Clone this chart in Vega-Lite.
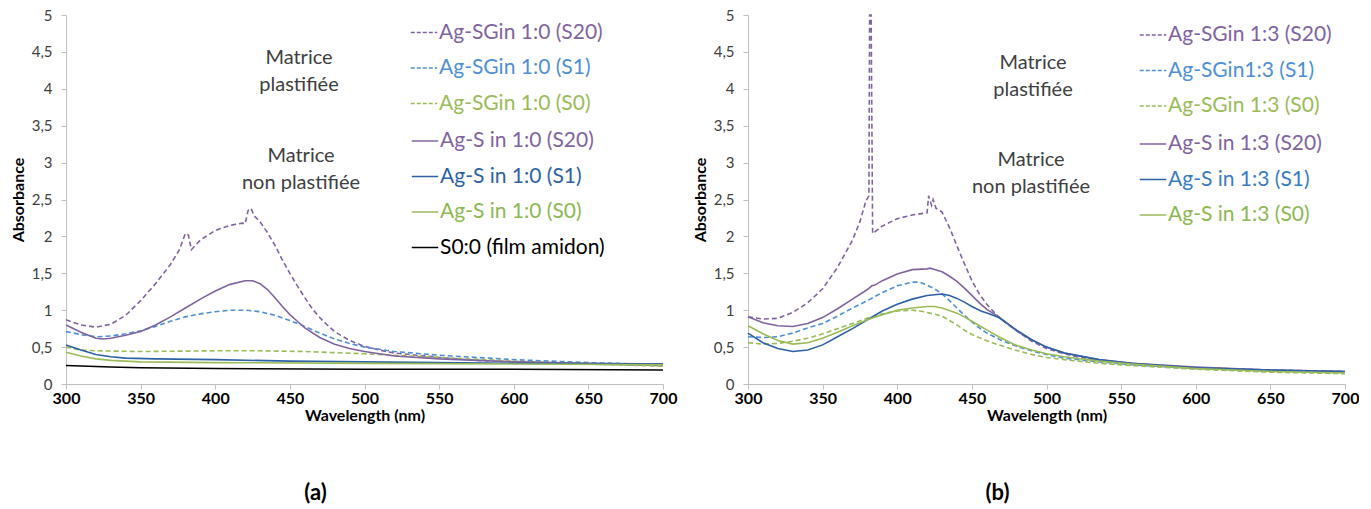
{
  "$schema": "https://vega.github.io/schema/vega-lite/v6.json",
  "padding": {"left": 10, "top": 8, "right": 0, "bottom": 0},
  "background": "white",
  "spacing": 15,
  "config": {
    "font": "Lato",
    "view": {"stroke": null},
    "axis": {"grid": false, "domainColor": "#BFBFBF", "tickColor": "#BFBFBF", "labelColor": "#404040", "titleColor": "#000000", "labelFont": "Lato", "titleFont": "Lato", "tickSize": 5},
    "legend": {"labelFont": "Lato", "titleFont": "Lato"},
    "title": {"font": "Lato"}
  },
  "datasets": {
    "a": [
      {"series":"Ag-SGin 1:0 (S20)","nm":300,"A":0.87},{"series":"Ag-SGin 1:0 (S20)","nm":310,"A":0.80},{"series":"Ag-SGin 1:0 (S20)","nm":320,"A":0.77},{"series":"Ag-SGin 1:0 (S20)","nm":330,"A":0.81},{"series":"Ag-SGin 1:0 (S20)","nm":340,"A":0.93},{"series":"Ag-SGin 1:0 (S20)","nm":350,"A":1.13},{"series":"Ag-SGin 1:0 (S20)","nm":360,"A":1.36},{"series":"Ag-SGin 1:0 (S20)","nm":370,"A":1.62},{"series":"Ag-SGin 1:0 (S20)","nm":376,"A":1.82},{"series":"Ag-SGin 1:0 (S20)","nm":380,"A":2.04},{"series":"Ag-SGin 1:0 (S20)","nm":382,"A":2.02},{"series":"Ag-SGin 1:0 (S20)","nm":384,"A":1.82},{"series":"Ag-SGin 1:0 (S20)","nm":390,"A":1.95},{"series":"Ag-SGin 1:0 (S20)","nm":400,"A":2.08},{"series":"Ag-SGin 1:0 (S20)","nm":410,"A":2.15},{"series":"Ag-SGin 1:0 (S20)","nm":418,"A":2.18},{"series":"Ag-SGin 1:0 (S20)","nm":420,"A":2.17},{"series":"Ag-SGin 1:0 (S20)","nm":422,"A":2.35},{"series":"Ag-SGin 1:0 (S20)","nm":424,"A":2.38},{"series":"Ag-SGin 1:0 (S20)","nm":426,"A":2.28},{"series":"Ag-SGin 1:0 (S20)","nm":430,"A":2.2},{"series":"Ag-SGin 1:0 (S20)","nm":435,"A":2.05},{"series":"Ag-SGin 1:0 (S20)","nm":440,"A":1.88},{"series":"Ag-SGin 1:0 (S20)","nm":445,"A":1.68},{"series":"Ag-SGin 1:0 (S20)","nm":450,"A":1.5},{"series":"Ag-SGin 1:0 (S20)","nm":455,"A":1.33},{"series":"Ag-SGin 1:0 (S20)","nm":460,"A":1.17},{"series":"Ag-SGin 1:0 (S20)","nm":465,"A":1.02},{"series":"Ag-SGin 1:0 (S20)","nm":470,"A":0.9},{"series":"Ag-SGin 1:0 (S20)","nm":475,"A":0.8},{"series":"Ag-SGin 1:0 (S20)","nm":480,"A":0.71},{"series":"Ag-SGin 1:0 (S20)","nm":490,"A":0.59},{"series":"Ag-SGin 1:0 (S20)","nm":500,"A":0.51},{"series":"Ag-SGin 1:0 (S20)","nm":510,"A":0.46},{"series":"Ag-SGin 1:0 (S20)","nm":520,"A":0.42},{"series":"Ag-SGin 1:0 (S20)","nm":535,"A":0.39},{"series":"Ag-SGin 1:0 (S20)","nm":550,"A":0.36},{"series":"Ag-SGin 1:0 (S20)","nm":575,"A":0.32},{"series":"Ag-SGin 1:0 (S20)","nm":600,"A":0.3},{"series":"Ag-SGin 1:0 (S20)","nm":650,"A":0.27},{"series":"Ag-SGin 1:0 (S20)","nm":700,"A":0.25},
      {"series":"Ag-SGin 1:0 (S1)","nm":300,"A":0.71},{"series":"Ag-SGin 1:0 (S1)","nm":310,"A":0.67},{"series":"Ag-SGin 1:0 (S1)","nm":320,"A":0.64},{"series":"Ag-SGin 1:0 (S1)","nm":330,"A":0.65},{"series":"Ag-SGin 1:0 (S1)","nm":340,"A":0.68},{"series":"Ag-SGin 1:0 (S1)","nm":350,"A":0.72},{"series":"Ag-SGin 1:0 (S1)","nm":360,"A":0.78},{"series":"Ag-SGin 1:0 (S1)","nm":370,"A":0.85},{"series":"Ag-SGin 1:0 (S1)","nm":380,"A":0.91},{"series":"Ag-SGin 1:0 (S1)","nm":390,"A":0.95},{"series":"Ag-SGin 1:0 (S1)","nm":400,"A":0.98},{"series":"Ag-SGin 1:0 (S1)","nm":410,"A":1.0},{"series":"Ag-SGin 1:0 (S1)","nm":420,"A":1.0},{"series":"Ag-SGin 1:0 (S1)","nm":430,"A":0.98},{"series":"Ag-SGin 1:0 (S1)","nm":440,"A":0.93},{"series":"Ag-SGin 1:0 (S1)","nm":450,"A":0.86},{"series":"Ag-SGin 1:0 (S1)","nm":460,"A":0.78},{"series":"Ag-SGin 1:0 (S1)","nm":470,"A":0.69},{"series":"Ag-SGin 1:0 (S1)","nm":480,"A":0.61},{"series":"Ag-SGin 1:0 (S1)","nm":490,"A":0.55},{"series":"Ag-SGin 1:0 (S1)","nm":500,"A":0.5},{"series":"Ag-SGin 1:0 (S1)","nm":520,"A":0.44},{"series":"Ag-SGin 1:0 (S1)","nm":550,"A":0.39},{"series":"Ag-SGin 1:0 (S1)","nm":600,"A":0.33},{"series":"Ag-SGin 1:0 (S1)","nm":650,"A":0.29},{"series":"Ag-SGin 1:0 (S1)","nm":700,"A":0.26},
      {"series":"Ag-SGin 1:0 (S0)","nm":300,"A":0.5},{"series":"Ag-SGin 1:0 (S0)","nm":310,"A":0.46},{"series":"Ag-SGin 1:0 (S0)","nm":320,"A":0.45},{"series":"Ag-SGin 1:0 (S0)","nm":350,"A":0.44},{"series":"Ag-SGin 1:0 (S0)","nm":400,"A":0.45},{"series":"Ag-SGin 1:0 (S0)","nm":430,"A":0.45},{"series":"Ag-SGin 1:0 (S0)","nm":460,"A":0.44},{"series":"Ag-SGin 1:0 (S0)","nm":500,"A":0.41},{"series":"Ag-SGin 1:0 (S0)","nm":550,"A":0.36},{"series":"Ag-SGin 1:0 (S0)","nm":600,"A":0.31},{"series":"Ag-SGin 1:0 (S0)","nm":650,"A":0.27},{"series":"Ag-SGin 1:0 (S0)","nm":700,"A":0.24},
      {"series":"Ag-S in 1:0 (S20)","nm":300,"A":0.8},{"series":"Ag-S in 1:0 (S20)","nm":310,"A":0.7},{"series":"Ag-S in 1:0 (S20)","nm":320,"A":0.62},{"series":"Ag-S in 1:0 (S20)","nm":325,"A":0.61},{"series":"Ag-S in 1:0 (S20)","nm":330,"A":0.62},{"series":"Ag-S in 1:0 (S20)","nm":340,"A":0.66},{"series":"Ag-S in 1:0 (S20)","nm":350,"A":0.71},{"series":"Ag-S in 1:0 (S20)","nm":360,"A":0.8},{"series":"Ag-S in 1:0 (S20)","nm":370,"A":0.91},{"series":"Ag-S in 1:0 (S20)","nm":380,"A":1.03},{"series":"Ag-S in 1:0 (S20)","nm":390,"A":1.15},{"series":"Ag-S in 1:0 (S20)","nm":400,"A":1.26},{"series":"Ag-S in 1:0 (S20)","nm":410,"A":1.35},{"series":"Ag-S in 1:0 (S20)","nm":420,"A":1.4},{"series":"Ag-S in 1:0 (S20)","nm":425,"A":1.4},{"series":"Ag-S in 1:0 (S20)","nm":430,"A":1.36},{"series":"Ag-S in 1:0 (S20)","nm":435,"A":1.28},{"series":"Ag-S in 1:0 (S20)","nm":440,"A":1.17},{"series":"Ag-S in 1:0 (S20)","nm":445,"A":1.05},{"series":"Ag-S in 1:0 (S20)","nm":450,"A":0.94},{"series":"Ag-S in 1:0 (S20)","nm":455,"A":0.85},{"series":"Ag-S in 1:0 (S20)","nm":460,"A":0.76},{"series":"Ag-S in 1:0 (S20)","nm":470,"A":0.63},{"series":"Ag-S in 1:0 (S20)","nm":480,"A":0.54},{"series":"Ag-S in 1:0 (S20)","nm":490,"A":0.48},{"series":"Ag-S in 1:0 (S20)","nm":500,"A":0.44},{"series":"Ag-S in 1:0 (S20)","nm":520,"A":0.38},{"series":"Ag-S in 1:0 (S20)","nm":550,"A":0.34},{"series":"Ag-S in 1:0 (S20)","nm":600,"A":0.3},{"series":"Ag-S in 1:0 (S20)","nm":650,"A":0.28},{"series":"Ag-S in 1:0 (S20)","nm":700,"A":0.27},
      {"series":"Ag-S in 1:0 (S1)","nm":300,"A":0.53},{"series":"Ag-S in 1:0 (S1)","nm":310,"A":0.46},{"series":"Ag-S in 1:0 (S1)","nm":320,"A":0.4},{"series":"Ag-S in 1:0 (S1)","nm":330,"A":0.37},{"series":"Ag-S in 1:0 (S1)","nm":340,"A":0.35},{"series":"Ag-S in 1:0 (S1)","nm":360,"A":0.34},{"series":"Ag-S in 1:0 (S1)","nm":400,"A":0.33},{"series":"Ag-S in 1:0 (S1)","nm":450,"A":0.31},{"series":"Ag-S in 1:0 (S1)","nm":500,"A":0.3},{"series":"Ag-S in 1:0 (S1)","nm":600,"A":0.28},{"series":"Ag-S in 1:0 (S1)","nm":700,"A":0.27},
      {"series":"Ag-S in 1:0 (S0)","nm":300,"A":0.43},{"series":"Ag-S in 1:0 (S0)","nm":310,"A":0.38},{"series":"Ag-S in 1:0 (S0)","nm":320,"A":0.34},{"series":"Ag-S in 1:0 (S0)","nm":330,"A":0.32},{"series":"Ag-S in 1:0 (S0)","nm":350,"A":0.3},{"series":"Ag-S in 1:0 (S0)","nm":400,"A":0.29},{"series":"Ag-S in 1:0 (S0)","nm":500,"A":0.28},{"series":"Ag-S in 1:0 (S0)","nm":600,"A":0.27},{"series":"Ag-S in 1:0 (S0)","nm":700,"A":0.26},
      {"series":"S0:0 (film amidon)","nm":300,"A":0.25},{"series":"S0:0 (film amidon)","nm":330,"A":0.23},{"series":"S0:0 (film amidon)","nm":350,"A":0.22},{"series":"S0:0 (film amidon)","nm":400,"A":0.21},{"series":"S0:0 (film amidon)","nm":500,"A":0.2},{"series":"S0:0 (film amidon)","nm":600,"A":0.2},{"series":"S0:0 (film amidon)","nm":700,"A":0.19}
    ],
    "b": [
      {"series":"Ag-SGin 1:3 (S20)","nm":300,"A":0.91},{"series":"Ag-SGin 1:3 (S20)","nm":310,"A":0.88},{"series":"Ag-SGin 1:3 (S20)","nm":320,"A":0.89},{"series":"Ag-SGin 1:3 (S20)","nm":330,"A":0.97},{"series":"Ag-SGin 1:3 (S20)","nm":340,"A":1.1},{"series":"Ag-SGin 1:3 (S20)","nm":350,"A":1.29},{"series":"Ag-SGin 1:3 (S20)","nm":360,"A":1.58},{"series":"Ag-SGin 1:3 (S20)","nm":370,"A":1.95},{"series":"Ag-SGin 1:3 (S20)","nm":375,"A":2.2},{"series":"Ag-SGin 1:3 (S20)","nm":379,"A":2.48},{"series":"Ag-SGin 1:3 (S20)","nm":381,"A":2.55},{"series":"Ag-SGin 1:3 (S20)","nm":381.5,"A":5.0},{"series":"Ag-SGin 1:3 (S20)","nm":382.5,"A":5.0},{"series":"Ag-SGin 1:3 (S20)","nm":383.5,"A":2.04},{"series":"Ag-SGin 1:3 (S20)","nm":390,"A":2.14},{"series":"Ag-SGin 1:3 (S20)","nm":400,"A":2.24},{"series":"Ag-SGin 1:3 (S20)","nm":410,"A":2.29},{"series":"Ag-SGin 1:3 (S20)","nm":420,"A":2.32},{"series":"Ag-SGin 1:3 (S20)","nm":421,"A":2.55},{"series":"Ag-SGin 1:3 (S20)","nm":423,"A":2.42},{"series":"Ag-SGin 1:3 (S20)","nm":424,"A":2.5},{"series":"Ag-SGin 1:3 (S20)","nm":426,"A":2.38},{"series":"Ag-SGin 1:3 (S20)","nm":430,"A":2.33},{"series":"Ag-SGin 1:3 (S20)","nm":435,"A":2.12},{"series":"Ag-SGin 1:3 (S20)","nm":440,"A":1.87},{"series":"Ag-SGin 1:3 (S20)","nm":445,"A":1.63},{"series":"Ag-SGin 1:3 (S20)","nm":450,"A":1.4},{"series":"Ag-SGin 1:3 (S20)","nm":455,"A":1.22},{"series":"Ag-SGin 1:3 (S20)","nm":460,"A":1.08},{"series":"Ag-SGin 1:3 (S20)","nm":465,"A":0.97},{"series":"Ag-SGin 1:3 (S20)","nm":470,"A":0.87},{"series":"Ag-SGin 1:3 (S20)","nm":480,"A":0.72},{"series":"Ag-SGin 1:3 (S20)","nm":490,"A":0.58},{"series":"Ag-SGin 1:3 (S20)","nm":500,"A":0.48},{"series":"Ag-SGin 1:3 (S20)","nm":510,"A":0.42},{"series":"Ag-SGin 1:3 (S20)","nm":520,"A":0.37},{"series":"Ag-SGin 1:3 (S20)","nm":535,"A":0.32},{"series":"Ag-SGin 1:3 (S20)","nm":550,"A":0.29},{"series":"Ag-SGin 1:3 (S20)","nm":575,"A":0.25},{"series":"Ag-SGin 1:3 (S20)","nm":600,"A":0.22},{"series":"Ag-SGin 1:3 (S20)","nm":650,"A":0.19},{"series":"Ag-SGin 1:3 (S20)","nm":700,"A":0.17},
      {"series":"Ag-SGin1:3 (S1)","nm":300,"A":0.64},{"series":"Ag-SGin1:3 (S1)","nm":310,"A":0.63},{"series":"Ag-SGin1:3 (S1)","nm":320,"A":0.64},{"series":"Ag-SGin1:3 (S1)","nm":330,"A":0.69},{"series":"Ag-SGin1:3 (S1)","nm":340,"A":0.76},{"series":"Ag-SGin1:3 (S1)","nm":350,"A":0.82},{"series":"Ag-SGin1:3 (S1)","nm":360,"A":0.92},{"series":"Ag-SGin1:3 (S1)","nm":370,"A":1.03},{"series":"Ag-SGin1:3 (S1)","nm":380,"A":1.13},{"series":"Ag-SGin1:3 (S1)","nm":390,"A":1.24},{"series":"Ag-SGin1:3 (S1)","nm":400,"A":1.33},{"series":"Ag-SGin1:3 (S1)","nm":410,"A":1.38},{"series":"Ag-SGin1:3 (S1)","nm":415,"A":1.38},{"series":"Ag-SGin1:3 (S1)","nm":420,"A":1.34},{"series":"Ag-SGin1:3 (S1)","nm":425,"A":1.29},{"series":"Ag-SGin1:3 (S1)","nm":430,"A":1.22},{"series":"Ag-SGin1:3 (S1)","nm":435,"A":1.13},{"series":"Ag-SGin1:3 (S1)","nm":440,"A":1.03},{"series":"Ag-SGin1:3 (S1)","nm":445,"A":0.93},{"series":"Ag-SGin1:3 (S1)","nm":450,"A":0.84},{"series":"Ag-SGin1:3 (S1)","nm":455,"A":0.76},{"series":"Ag-SGin1:3 (S1)","nm":460,"A":0.69},{"series":"Ag-SGin1:3 (S1)","nm":470,"A":0.59},{"series":"Ag-SGin1:3 (S1)","nm":480,"A":0.51},{"series":"Ag-SGin1:3 (S1)","nm":490,"A":0.45},{"series":"Ag-SGin1:3 (S1)","nm":500,"A":0.4},{"series":"Ag-SGin1:3 (S1)","nm":512,"A":0.35},{"series":"Ag-SGin1:3 (S1)","nm":535,"A":0.3},{"series":"Ag-SGin1:3 (S1)","nm":557,"A":0.26},{"series":"Ag-SGin1:3 (S1)","nm":600,"A":0.21},{"series":"Ag-SGin1:3 (S1)","nm":650,"A":0.18},{"series":"Ag-SGin1:3 (S1)","nm":700,"A":0.16},
      {"series":"Ag-SGin 1:3 (S0)","nm":300,"A":0.56},{"series":"Ag-SGin 1:3 (S0)","nm":310,"A":0.54},{"series":"Ag-SGin 1:3 (S0)","nm":320,"A":0.55},{"series":"Ag-SGin 1:3 (S0)","nm":330,"A":0.58},{"series":"Ag-SGin 1:3 (S0)","nm":340,"A":0.62},{"series":"Ag-SGin 1:3 (S0)","nm":350,"A":0.68},{"series":"Ag-SGin 1:3 (S0)","nm":360,"A":0.75},{"series":"Ag-SGin 1:3 (S0)","nm":370,"A":0.82},{"series":"Ag-SGin 1:3 (S0)","nm":380,"A":0.89},{"series":"Ag-SGin 1:3 (S0)","nm":390,"A":0.95},{"series":"Ag-SGin 1:3 (S0)","nm":400,"A":0.99},{"series":"Ag-SGin 1:3 (S0)","nm":410,"A":1.0},{"series":"Ag-SGin 1:3 (S0)","nm":415,"A":0.99},{"series":"Ag-SGin 1:3 (S0)","nm":420,"A":0.97},{"series":"Ag-SGin 1:3 (S0)","nm":430,"A":0.92},{"series":"Ag-SGin 1:3 (S0)","nm":440,"A":0.8},{"series":"Ag-SGin 1:3 (S0)","nm":445,"A":0.73},{"series":"Ag-SGin 1:3 (S0)","nm":450,"A":0.67},{"series":"Ag-SGin 1:3 (S0)","nm":456,"A":0.62},{"series":"Ag-SGin 1:3 (S0)","nm":462,"A":0.57},{"series":"Ag-SGin 1:3 (S0)","nm":468,"A":0.53},{"series":"Ag-SGin 1:3 (S0)","nm":479,"A":0.46},{"series":"Ag-SGin 1:3 (S0)","nm":490,"A":0.4},{"series":"Ag-SGin 1:3 (S0)","nm":500,"A":0.36},{"series":"Ag-SGin 1:3 (S0)","nm":512,"A":0.33},{"series":"Ag-SGin 1:3 (S0)","nm":535,"A":0.28},{"series":"Ag-SGin 1:3 (S0)","nm":557,"A":0.25},{"series":"Ag-SGin 1:3 (S0)","nm":600,"A":0.2},{"series":"Ag-SGin 1:3 (S0)","nm":650,"A":0.16},{"series":"Ag-SGin 1:3 (S0)","nm":700,"A":0.14},
      {"series":"Ag-S in 1:3 (S20)","nm":300,"A":0.91},{"series":"Ag-S in 1:3 (S20)","nm":310,"A":0.83},{"series":"Ag-S in 1:3 (S20)","nm":320,"A":0.79},{"series":"Ag-S in 1:3 (S20)","nm":330,"A":0.78},{"series":"Ag-S in 1:3 (S20)","nm":340,"A":0.82},{"series":"Ag-S in 1:3 (S20)","nm":350,"A":0.9},{"series":"Ag-S in 1:3 (S20)","nm":360,"A":1.02},{"series":"Ag-S in 1:3 (S20)","nm":370,"A":1.15},{"series":"Ag-S in 1:3 (S20)","nm":380,"A":1.28},{"series":"Ag-S in 1:3 (S20)","nm":383,"A":1.33},{"series":"Ag-S in 1:3 (S20)","nm":385,"A":1.34},{"series":"Ag-S in 1:3 (S20)","nm":390,"A":1.4},{"series":"Ag-S in 1:3 (S20)","nm":400,"A":1.49},{"series":"Ag-S in 1:3 (S20)","nm":410,"A":1.55},{"series":"Ag-S in 1:3 (S20)","nm":420,"A":1.56},{"series":"Ag-S in 1:3 (S20)","nm":422,"A":1.57},{"series":"Ag-S in 1:3 (S20)","nm":425,"A":1.55},{"series":"Ag-S in 1:3 (S20)","nm":430,"A":1.52},{"series":"Ag-S in 1:3 (S20)","nm":435,"A":1.46},{"series":"Ag-S in 1:3 (S20)","nm":440,"A":1.39},{"series":"Ag-S in 1:3 (S20)","nm":445,"A":1.3},{"series":"Ag-S in 1:3 (S20)","nm":450,"A":1.2},{"series":"Ag-S in 1:3 (S20)","nm":455,"A":1.1},{"series":"Ag-S in 1:3 (S20)","nm":460,"A":1.01},{"series":"Ag-S in 1:3 (S20)","nm":468,"A":0.91},{"series":"Ag-S in 1:3 (S20)","nm":475,"A":0.8},{"series":"Ag-S in 1:3 (S20)","nm":480,"A":0.72},{"series":"Ag-S in 1:3 (S20)","nm":490,"A":0.6},{"series":"Ag-S in 1:3 (S20)","nm":500,"A":0.5},{"series":"Ag-S in 1:3 (S20)","nm":512,"A":0.42},{"series":"Ag-S in 1:3 (S20)","nm":535,"A":0.33},{"series":"Ag-S in 1:3 (S20)","nm":557,"A":0.28},{"series":"Ag-S in 1:3 (S20)","nm":600,"A":0.23},{"series":"Ag-S in 1:3 (S20)","nm":650,"A":0.19},{"series":"Ag-S in 1:3 (S20)","nm":700,"A":0.17},
      {"series":"Ag-S in 1:3 (S1)","nm":300,"A":0.69},{"series":"Ag-S in 1:3 (S1)","nm":310,"A":0.56},{"series":"Ag-S in 1:3 (S1)","nm":320,"A":0.48},{"series":"Ag-S in 1:3 (S1)","nm":330,"A":0.44},{"series":"Ag-S in 1:3 (S1)","nm":340,"A":0.46},{"series":"Ag-S in 1:3 (S1)","nm":350,"A":0.53},{"series":"Ag-S in 1:3 (S1)","nm":360,"A":0.64},{"series":"Ag-S in 1:3 (S1)","nm":370,"A":0.75},{"series":"Ag-S in 1:3 (S1)","nm":380,"A":0.87},{"series":"Ag-S in 1:3 (S1)","nm":390,"A":0.99},{"series":"Ag-S in 1:3 (S1)","nm":400,"A":1.08},{"series":"Ag-S in 1:3 (S1)","nm":410,"A":1.15},{"series":"Ag-S in 1:3 (S1)","nm":420,"A":1.2},{"series":"Ag-S in 1:3 (S1)","nm":430,"A":1.22},{"series":"Ag-S in 1:3 (S1)","nm":435,"A":1.2},{"series":"Ag-S in 1:3 (S1)","nm":440,"A":1.16},{"series":"Ag-S in 1:3 (S1)","nm":445,"A":1.11},{"series":"Ag-S in 1:3 (S1)","nm":450,"A":1.05},{"series":"Ag-S in 1:3 (S1)","nm":456,"A":0.99},{"series":"Ag-S in 1:3 (S1)","nm":462,"A":0.95},{"series":"Ag-S in 1:3 (S1)","nm":468,"A":0.9},{"series":"Ag-S in 1:3 (S1)","nm":475,"A":0.8},{"series":"Ag-S in 1:3 (S1)","nm":480,"A":0.73},{"series":"Ag-S in 1:3 (S1)","nm":490,"A":0.6},{"series":"Ag-S in 1:3 (S1)","nm":500,"A":0.5},{"series":"Ag-S in 1:3 (S1)","nm":512,"A":0.42},{"series":"Ag-S in 1:3 (S1)","nm":535,"A":0.33},{"series":"Ag-S in 1:3 (S1)","nm":557,"A":0.28},{"series":"Ag-S in 1:3 (S1)","nm":600,"A":0.22},{"series":"Ag-S in 1:3 (S1)","nm":650,"A":0.19},{"series":"Ag-S in 1:3 (S1)","nm":700,"A":0.17},
      {"series":"Ag-S in 1:3 (S0)","nm":300,"A":0.79},{"series":"Ag-S in 1:3 (S0)","nm":310,"A":0.68},{"series":"Ag-S in 1:3 (S0)","nm":320,"A":0.59},{"series":"Ag-S in 1:3 (S0)","nm":330,"A":0.54},{"series":"Ag-S in 1:3 (S0)","nm":340,"A":0.56},{"series":"Ag-S in 1:3 (S0)","nm":350,"A":0.62},{"series":"Ag-S in 1:3 (S0)","nm":360,"A":0.7},{"series":"Ag-S in 1:3 (S0)","nm":370,"A":0.79},{"series":"Ag-S in 1:3 (S0)","nm":380,"A":0.87},{"series":"Ag-S in 1:3 (S0)","nm":390,"A":0.94},{"series":"Ag-S in 1:3 (S0)","nm":400,"A":1.0},{"series":"Ag-S in 1:3 (S0)","nm":410,"A":1.03},{"series":"Ag-S in 1:3 (S0)","nm":420,"A":1.05},{"series":"Ag-S in 1:3 (S0)","nm":425,"A":1.05},{"series":"Ag-S in 1:3 (S0)","nm":430,"A":1.03},{"series":"Ag-S in 1:3 (S0)","nm":440,"A":0.96},{"series":"Ag-S in 1:3 (S0)","nm":445,"A":0.91},{"series":"Ag-S in 1:3 (S0)","nm":450,"A":0.85},{"series":"Ag-S in 1:3 (S0)","nm":456,"A":0.78},{"series":"Ag-S in 1:3 (S0)","nm":462,"A":0.71},{"series":"Ag-S in 1:3 (S0)","nm":468,"A":0.64},{"series":"Ag-S in 1:3 (S0)","nm":479,"A":0.53},{"series":"Ag-S in 1:3 (S0)","nm":490,"A":0.46},{"series":"Ag-S in 1:3 (S0)","nm":500,"A":0.41},{"series":"Ag-S in 1:3 (S0)","nm":512,"A":0.37},{"series":"Ag-S in 1:3 (S0)","nm":535,"A":0.31},{"series":"Ag-S in 1:3 (S0)","nm":557,"A":0.27},{"series":"Ag-S in 1:3 (S0)","nm":600,"A":0.21},{"series":"Ag-S in 1:3 (S0)","nm":650,"A":0.17},{"series":"Ag-S in 1:3 (S0)","nm":700,"A":0.15}
    ]
  },
  "hconcat": [
    {
      "width": 597, "height": 369,
      "data": {"name": "a"},
      "title": {"text": "(a)", "orient": "bottom", "fontSize": 22, "fontWeight": "bold", "color": "#000000", "dx": -49, "offset": 60},
      "encoding": {
        "x": {"field": "nm", "type": "quantitative", "scale": {"domain": [300, 700], "nice": false, "zero": false},
              "axis": {"values": [300,350,400,450,500,550,600,650,700], "title": "Wavelength (nm)", "labelFlush": false, "labelFontWeight": "bold", "labelFontSize": 16, "labelColor": "#000000", "titleFontSize": 16, "labelPadding": 1, "titlePadding": 1}},
        "y": {"field": "A", "type": "quantitative", "scale": {"domain": [0, 5], "nice": false},
              "axis": {"values": [0,0.5,1,1.5,2,2.5,3,3.5,4,4.5,5], "labelExpr": "replace(toString(datum.value), '.', ',')", "title": "Absorbance", "labelFontSize": 15, "titleFontSize": 16, "labelPadding": 9, "titlePadding": 5}}
      },
      "layer": [
        {
          "transform": [{"filter": "indexof(datum.series, 'SGin') >= 0"}],
          "mark": {"type": "line", "strokeDash": [5, 3], "strokeWidth": 1.6},
          "encoding": {
            "color": {"field": "series", "type": "nominal",
              "scale": {"domain": ["Ag-SGin 1:0 (S20)", "Ag-SGin 1:0 (S1)", "Ag-SGin 1:0 (S0)"], "range": ["#8064A2", "#4F8FD6", "#9BBB59"]},
              "legend": {"title": ["Matrice", "plastifiée"], "orient": "none", "legendX": 193, "legendY": 3.5, "titleOrient": "left", "titleAlign": "center", "titleAnchor": "middle", "titleFontSize": 20, "titleFontWeight": "normal", "titleColor": "#404040", "titleLineHeight": 27, "titlePadding": 31, "symbolType": "stroke", "symbolSize": 700, "symbolStrokeWidth": 1.5, "symbolDash": [4, 2], "labelFontSize": 21, "labelOffset": 1, "rowPadding": 11.5, "labelLimit": 300,
                "encode": {"title": {"update": {"dy": {"value": 5.5}}}, "labels": {"update": {"fill": {"signal": "indexof(datum.value, 'S20') >= 0 ? '#8064A2' : indexof(datum.value, '(S1)') >= 0 ? '#4F8FD6' : '#9BBB59'"}}}}}
            }
          }
        },
        {
          "transform": [{"filter": "indexof(datum.series, 'SGin') < 0"}],
          "mark": {"type": "line", "strokeWidth": 1.6},
          "encoding": {
            "color": {"field": "series", "type": "nominal",
              "scale": {"domain": ["Ag-S in 1:0 (S20)", "Ag-S in 1:0 (S1)", "Ag-S in 1:0 (S0)", "S0:0 (film amidon)"], "range": ["#8064A2", "#2E62A6", "#9BBB59", "#000000"]},
              "legend": {"title": ["Matrice", "non plastifiée"], "orient": "none", "legendX": 176, "legendY": 112, "titleOrient": "left", "titleAlign": "center", "titleAnchor": "middle", "titleFontSize": 20, "titleFontWeight": "normal", "titleColor": "#404040", "titleLineHeight": 27, "titlePadding": -9, "symbolType": "stroke", "symbolSize": 700, "symbolStrokeWidth": 1.5, "labelFontSize": 21, "labelOffset": 1, "rowPadding": 11.5, "labelLimit": 300,
                "encode": {"title": {"update": {"dy": {"value": -23}}}, "labels": {"update": {"fill": {"signal": "indexof(datum.value, 'S20') >= 0 ? '#8064A2' : indexof(datum.value, '(S1)') >= 0 ? '#2E62A6' : indexof(datum.value, 'amidon') >= 0 ? '#000000' : '#8DB852'"}}}}}
            }
          }
        }
      ],
      "resolve": {"scale": {"color": "independent"}, "legend": {"color": "independent"}}
    },
    {
      "width": 597, "height": 369,
      "data": {"name": "b"},
      "title": {"text": "(b)", "orient": "bottom", "fontSize": 22, "fontWeight": "bold", "color": "#000000", "dx": -49, "offset": 60},
      "encoding": {
        "x": {"field": "nm", "type": "quantitative", "scale": {"domain": [300, 700], "nice": false, "zero": false},
              "axis": {"values": [300,350,400,450,500,550,600,650,700], "title": "Wavelength (nm)", "labelFlush": false, "labelFontWeight": "bold", "labelFontSize": 16, "labelColor": "#000000", "titleFontSize": 16, "labelPadding": 1, "titlePadding": 1}},
        "y": {"field": "A", "type": "quantitative", "scale": {"domain": [0, 5], "nice": false},
              "axis": {"values": [0,0.5,1,1.5,2,2.5,3,3.5,4,4.5,5], "labelExpr": "replace(toString(datum.value), '.', ',')", "title": "Absorbance", "labelFontSize": 15, "titleFontSize": 16, "labelPadding": 9, "titlePadding": 5}}
      },
      "layer": [
        {
          "transform": [{"filter": "indexof(datum.series, 'SGin') >= 0"}],
          "mark": {"type": "line", "strokeDash": [5, 3], "strokeWidth": 1.6},
          "encoding": {
            "color": {"field": "series", "type": "nominal",
              "scale": {"domain": ["Ag-SGin 1:3 (S20)", "Ag-SGin1:3 (S1)", "Ag-SGin 1:3 (S0)"], "range": ["#8064A2", "#4F8FD6", "#9BBB59"]},
              "legend": {"title": ["Matrice", "plastifiée"], "orient": "none", "legendX": 245, "legendY": 6, "titleOrient": "left", "titleAlign": "center", "titleAnchor": "middle", "titleFontSize": 20, "titleFontWeight": "normal", "titleColor": "#404040", "titleLineHeight": 27, "titlePadding": 26, "symbolType": "stroke", "symbolSize": 700, "symbolStrokeWidth": 1.5, "symbolDash": [4, 2], "labelFontSize": 21, "labelOffset": 1, "rowPadding": 11.5, "labelLimit": 300,
                "encode": {"title": {"update": {"dy": {"value": 8}}}, "labels": {"update": {"fill": {"signal": "indexof(datum.value, 'S20') >= 0 ? '#8064A2' : indexof(datum.value, '(S1)') >= 0 ? '#4F8FD6' : '#9BBB59'"}}}}}
            }
          }
        },
        {
          "transform": [{"filter": "indexof(datum.series, 'SGin') < 0"}],
          "mark": {"type": "line", "strokeWidth": 1.6},
          "encoding": {
            "color": {"field": "series", "type": "nominal",
              "scale": {"domain": ["Ag-S in 1:3 (S20)", "Ag-S in 1:3 (S1)", "Ag-S in 1:3 (S0)"], "range": ["#8064A2", "#2E62A6", "#9BBB59"]},
              "legend": {"title": ["Matrice", "non plastifiée"], "orient": "none", "legendX": 224, "legendY": 115, "titleOrient": "left", "titleAlign": "center", "titleAnchor": "middle", "titleFontSize": 20, "titleFontWeight": "normal", "titleColor": "#404040", "titleLineHeight": 27, "titlePadding": -11, "symbolType": "stroke", "symbolSize": 700, "symbolStrokeWidth": 1.5, "labelFontSize": 21, "labelOffset": 1, "rowPadding": 11.5, "labelLimit": 300,
                "encode": {"title": {"update": {"dy": {"value": -4}}}, "labels": {"update": {"fill": {"signal": "indexof(datum.value, 'S20') >= 0 ? '#8064A2' : indexof(datum.value, '(S1)') >= 0 ? '#3A7CC4' : '#8DB852'"}}}}}
            }
          }
        }
      ],
      "resolve": {"scale": {"color": "independent"}, "legend": {"color": "independent"}}
    }
  ]
}
